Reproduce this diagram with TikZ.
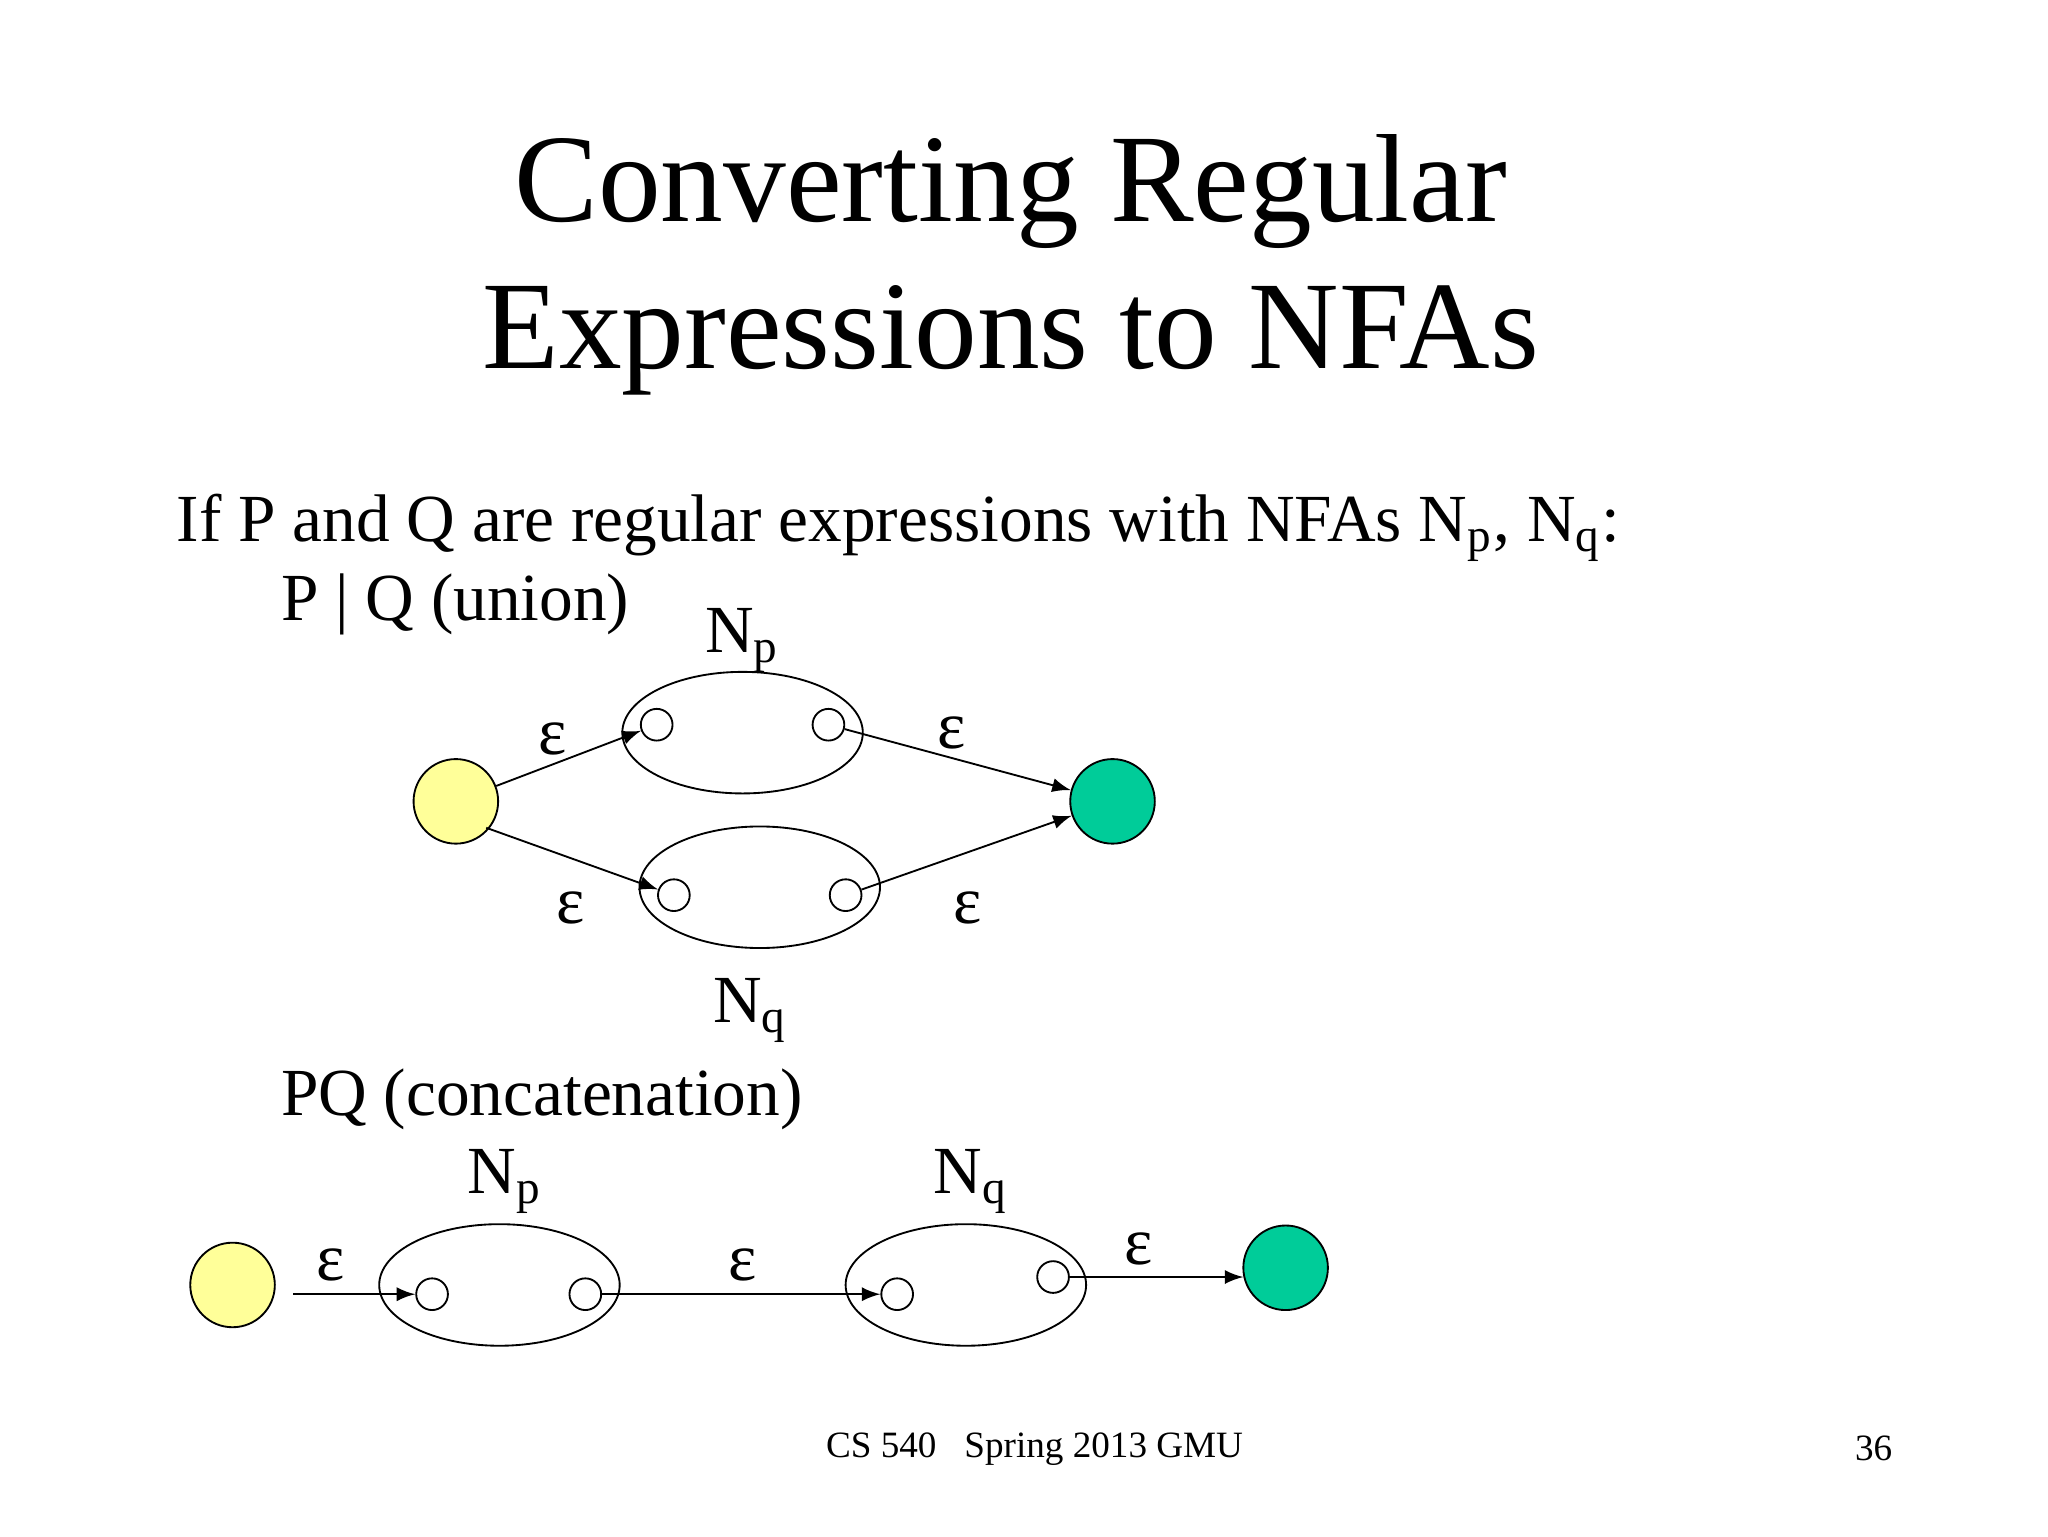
\documentclass[tikz,border=0pt]{standalone}
\usepackage{fontspec}
\setmainfont{Liberation Serif}
\usetikzlibrary{positioning,shapes.geometric}
\definecolor{startyellow}{HTML}{FFFF99}
\definecolor{finalgreen}{HTML}{00CC99}

\begin{document}
\begin{tikzpicture}[x=1cm, y=1cm, >=latex,
  start/.style={circle, draw, fill=startyellow, minimum size=0.64cm, inner sep=0pt},
  final/.style={circle, draw, fill=finalgreen, minimum size=0.64cm, inner sep=0pt},
  sub/.style={circle, draw, fill=white, minimum size=0.24cm, inner sep=0pt},
  nfa/.style={ellipse, draw, minimum width=1.82cm, minimum height=0.92cm, inner sep=0pt},
  lbl/.style={font=\fontsize{14.5pt}{16pt}\selectfont, inner sep=0pt},
  eps/.style={font=\fontsize{14.5pt}{16pt}\selectfont, inner sep=0pt}]
	\useasboundingbox (0,0) rectangle (15.5,11.625);
	% title and text
	\node[font=\fontsize{27pt}{31.5pt}\selectfont, align=center] (title) at (7.65,9.62) {Converting Regular\\Expressions to NFAs};
	\node[lbl, anchor=base west] (intro) at (1.33,7.53) {If P and Q are regular expressions with NFAs N$_{\mathrm{p}}$, N$_{\mathrm{q}}$:};
	\node[lbl, anchor=base west] (union) at (2.12,6.93) {P | Q (union)};
	\node[lbl, anchor=base west] (concat) at (2.12,3.18) {PQ (concatenation)};
	% union
	\node[start] (us) at (3.45,5.56) {};
	\node[final] (uf) at (8.42,5.56) {};
	\node[nfa] (np) at (5.62,6.08) {};
	\node[nfa] (nq) at (5.75,4.91) {};
	\node[sub] (np1) at (4.97,6.14) {};
	\node[sub] (np2) at (6.27,6.14) {};
	\node[sub] (nq1) at (5.10,4.85) {};
	\node[sub] (nq2) at (6.40,4.85) {};
	\node[lbl] (npl) at (5.62,6.78) {N$_{\mathrm{p}}$};
	\node[lbl] (nql) at (5.68,3.98) {N$_{\mathrm{q}}$};
	\draw[->] (us) -- (np1);
	\coordinate (us2) at (3.68,5.36);
	\draw[->] (us2) -- (nq1);
	\draw[->] (np2) -- (uf);
	\draw[->] (nq2) -- (uf);
	\node[eps] (e1) at (4.18,6.03) {ε};
	\node[eps] (e2) at (7.20,6.08) {ε};
	\node[eps] (e3) at (4.32,4.75) {ε};
	\node[eps] (e4) at (7.32,4.75) {ε};
	% concatenation
	\node[start] (cs) at (1.76,1.90) {};
	\node[final] (cf) at (9.73,2.03) {};
	\node[nfa] (cp) at (3.78,1.90) {};
	\node[nfa] (cq) at (7.31,1.90) {};
	\node[sub] (cp1) at (3.27,1.83) {};
	\node[sub] (cp2) at (4.43,1.83) {};
	\node[sub] (cq1) at (6.79,1.83) {};
	\node[sub] (cq2) at (7.97,1.96) {};
	\node[lbl] (cpl) at (3.82,2.68) {N$_{\mathrm{p}}$};
	\node[lbl] (cql) at (7.35,2.68) {N$_{\mathrm{q}}$};
	\coordinate (cs0) at (2.22,1.83);
	\coordinate (cf0) at (9.41,1.96);
	\draw[->] (cs0) -- (cp1);
	\draw[->] (cp2) -- (cq1);
	\draw[->] (cq2) -- (cf0);
	\node[eps] (e5) at (2.50,2.05) {ε};
	\node[eps] (e6) at (5.62,2.05) {ε};
	\node[eps] (e7) at (8.62,2.17) {ε};
	% footer
	\node[font=\fontsize{8pt}{10pt}\selectfont] (foot) at (7.83,0.66) {CS 540\ \ \ Spring 2013 GMU};
	\node[font=\fontsize{8pt}{10pt}\selectfont] (page) at (14.18,0.66) {36};
\end{tikzpicture}
\end{document}
